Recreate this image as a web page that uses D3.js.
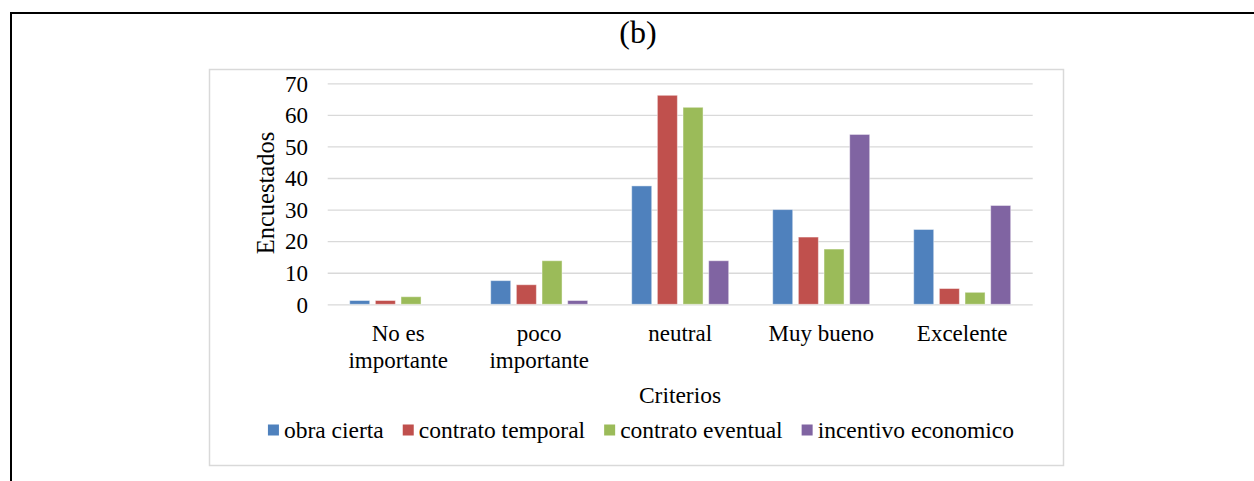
<!DOCTYPE html>
<html>
<head>
<meta charset="utf-8">
<script src="https://cdn.jsdelivr.net/npm/d3@7"></script>
<style>
  html, body { margin: 0; padding: 0; background: #fff; }
  svg { display: block; }
  text { font-family: "Liberation Serif", "DejaVu Serif", serif; fill: #000; }
</style>
</head>
<body>
<svg id="chart" width="1254" height="481"></svg>
<script>
// Survey answers per criterion, one array per contract type
const categories = [["No es", "importante"], ["poco", "importante"], ["neutral"], ["Muy bueno"], ["Excelente"]];
const seriesNames = ["obra cierta", "contrato temporal", "contrato eventual", "incentivo economico"];
const obraCierta = [1.2, 7.5, 37.5, 30, 23.7];
const contratoTemporal = [1.2, 6.2, 66.2, 21.3, 5];
const contratoEventual = [2.4, 13.8, 62.4, 17.5, 3.8];
const incentivoEconomico = [0, 1.2, 13.8, 53.8, 31.3];
const yTicks = [0, 10, 20, 30, 40, 50, 60, 70];
const colors = ["#4F81BD", "#C0504D", "#9BBB59", "#8064A2"];

const seriesValues = [obraCierta, contratoTemporal, contratoEventual, incentivoEconomico];
const catKeys = categories.map(c => c.join(" "));
const serif = '"Liberation Serif", "DejaVu Serif", serif';

const svg = d3.select("#chart");

// Page frame: top and left rules
svg.append("line").attr("x1", 11).attr("x2", 1254).attr("y1", 13).attr("y2", 13)
  .attr("stroke", "#000").attr("stroke-width", 2);
svg.append("line").attr("x1", 11).attr("x2", 11).attr("y1", 12).attr("y2", 481)
  .attr("stroke", "#000").attr("stroke-width", 2);

// Title
svg.append("text").attr("x", 638).attr("y", 43).attr("text-anchor", "middle")
  .style("font-size", "32px").text("(b)");

// Chart area border
svg.append("rect").attr("x", 209.5).attr("y", 69.5).attr("width", 854).attr("height", 396)
  .attr("fill", "none").attr("stroke", "#d9d9d9").attr("stroke-width", 1.5);

const plot = { left: 327.7, right: 1032.7, top: 83.3, bottom: 304.3 };

const y = d3.scaleLinear().domain([0, 70]).range([plot.bottom, plot.top]);
const x0 = d3.scaleBand().domain(catKeys).range([plot.left, plot.right]).padding(0);
const bw = x0.bandwidth();
const x1 = d3.scaleBand().domain(seriesNames).range([22, bw - 22]).paddingInner(0.22);

// Gridlines
const gy = svg.append("g").attr("transform", `translate(${plot.left},0)`)
  .call(d3.axisLeft(y).tickValues(yTicks).tickSize(-(plot.right - plot.left)).tickFormat(""));
gy.select(".domain").remove();
gy.selectAll(".tick line").attr("stroke", "#d9d9d9").attr("stroke-width", 1.3);

// Y tick labels
const ya = svg.append("g").attr("transform", "translate(308,0)")
  .call(d3.axisLeft(y).tickValues(yTicks).tickSize(0).tickPadding(0));
ya.select(".domain").remove();
ya.selectAll(".tick text").style("font-size", "23px")
  .style("font-family", serif).attr("fill", "#000").attr("dy", "0.34em");

// Bars
const groups = svg.append("g").selectAll("g").data(catKeys).join("g")
  .attr("transform", d => `translate(${x0(d)},0)`);
groups.selectAll("rect")
  .data((d, i) => seriesNames.map((s, j) => ({ s, j, v: seriesValues[j][i] })))
  .join("rect")
  .filter(d => d.v > 0)
  .attr("x", d => x1(d.s))
  .attr("width", x1.bandwidth())
  .attr("y", d => y(d.v))
  .attr("height", d => y(0) - y(d.v))
  .attr("fill", d => colors[d.j])
  .attr("stroke", "rgba(255,255,255,0.45)")
  .attr("stroke-width", 1);

// Category labels
const xa = svg.append("g");
categories.forEach((lines, i) => {
  const t = xa.append("text").attr("x", x0(catKeys[i]) + bw / 2).attr("y", 341)
    .attr("text-anchor", "middle").style("font-size", "23px");
  lines.forEach((ln, k) => {
    t.append("tspan").attr("x", x0(catKeys[i]) + bw / 2).attr("dy", k === 0 ? 0 : 27).text(ln);
  });
});

// Axis titles
svg.append("text").attr("transform", "translate(274,193) rotate(-90)")
  .attr("text-anchor", "middle").style("font-size", "24.5px").text("Encuestados");
svg.append("text").attr("x", 680).attr("y", 403).attr("text-anchor", "middle")
  .style("font-size", "23.5px").text("Criterios");

// Legend
const legendGap = 19;
const legend = svg.append("g");
const items = legend.selectAll("g").data(seriesNames).join("g");
items.append("rect").attr("width", 11).attr("height", 11).attr("y", -13.5)
  .attr("fill", (d, i) => colors[i]);
items.append("text").attr("x", 16).attr("y", 0).style("font-size", "23.5px").text(d => d);
let cx = 0;
items.each(function () {
  const g = d3.select(this);
  g.attr("transform", `translate(${cx},0)`);
  const w = 16 + g.select("text").node().getComputedTextLength();
  cx += w + legendGap;
});
const total = cx - legendGap;
legend.attr("transform", `translate(${641 - total / 2},438)`);
</script>
</body>
</html>
